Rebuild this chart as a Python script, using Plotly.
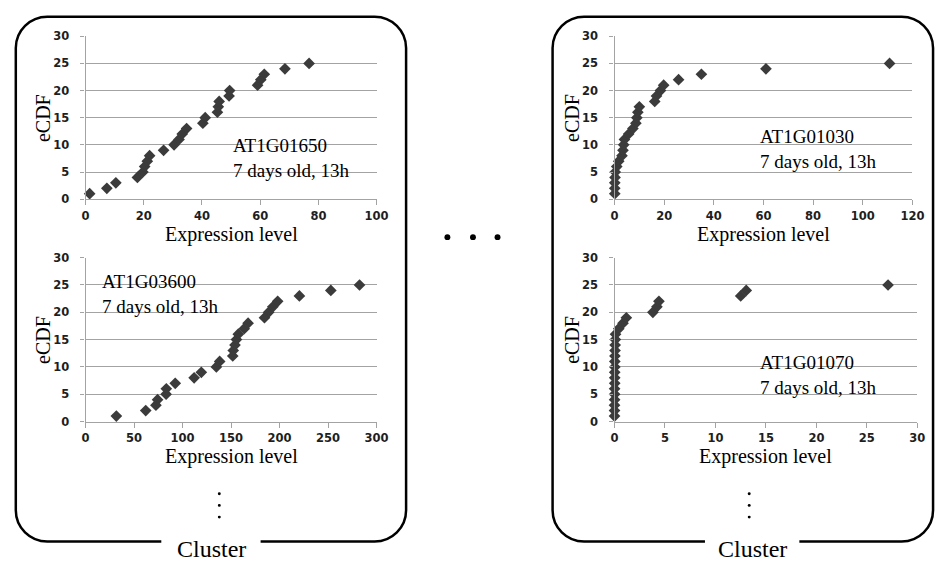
import plotly.graph_objects as go

W, H = 948, 568

# ---------------- data ----------------
ecdf = list(range(1, 26))
condition = "7 days old, 13h"
genes = ["AT1G01650", "AT1G03600", "AT1G01030", "AT1G01070"]

expr_at1g01650 = [1.4, 7.3, 10.4, 17.8, 19.7, 20.3, 21.2, 22.0, 26.8, 30.4,
                  32.1, 33.2, 34.7, 40.3, 41.1, 45.3, 45.6, 45.9, 49.3, 49.5,
                  59.1, 60.2, 61.4, 68.5, 76.8]
expr_at1g03600 = [31.7, 62.0, 72.5, 74.2, 83.0, 83.2, 92.4, 111.9, 119.3, 134.8,
                  138.2, 151.7, 152.2, 154.0, 155.5, 157.4, 163.5, 167.5, 184.4, 188.7,
                  193.0, 198.0, 220.4, 252.8, 282.4]
expr_at1g01030 = [0.1, 0.1, 0.1, 0.2, 0.3, 0.9, 1.7, 3.0, 3.4, 3.7,
                  4.0, 5.7, 7.4, 8.6, 9.0, 9.4, 10.0, 16.2, 16.9, 18.5,
                  19.8, 25.8, 35.0, 61.0, 110.8]
expr_at1g01070 = [0.0, 0.0, 0.0, 0.01, 0.01, 0.01, 0.02, 0.02, 0.02, 0.03,
                  0.03, 0.04, 0.05, 0.06, 0.08, 0.1, 0.42, 0.84, 1.17, 3.8,
                  4.2, 4.4, 12.5, 13.05, 27.1]

series = [expr_at1g01650, expr_at1g03600, expr_at1g01030, expr_at1g01070]
x_ranges = [[0, 100], [0, 300], [0, 120], [0, 30]]
x_dticks = [20, 50, 20, 5]
y_range = [0, 30]
y_dtick = 5

# ---------------- layout helpers (pixel -> paper) ----------------
def px(x):
    return x / W

def py(y):
    return 1 - y / H

# plot areas in pixels: (left, right, top, bottom)
areas = [(83, 379, 30, 197), (83, 379, 257, 425), (621, 924, 30, 197), (621, 929, 257, 425)]

fig = go.Figure()

GRID = "#a3a3a3"
SANS = "'DejaVu Sans', 'Liberation Sans', Arial, sans-serif"
SERIF = "'Liberation Serif', 'Times New Roman', Times, serif"
tick_font = dict(family=SANS, size=11.5, color="#1e1e1e", weight="bold")

layout = dict(width=W, height=H, margin=dict(l=0, r=0, t=0, b=0),
              paper_bgcolor="white", plot_bgcolor="white", showlegend=False)

for i, (vals, area) in enumerate(zip(series, areas)):
    n = "" if i == 0 else str(i + 1)
    fig.add_trace(go.Scatter(
        x=vals, y=ecdf, mode="markers", xaxis="x" + n, yaxis="y" + n,
        marker=dict(symbol="diamond", size=9, color="#3b3b3b"),
        cliponaxis=False, hoverinfo="skip"))
    l, r, t, b = area
    layout["xaxis" + n] = dict(
        domain=[px(l), px(r)], anchor="y" + n, range=x_ranges[i], dtick=x_dticks[i],
        showgrid=False, zeroline=False, showline=True, linecolor=GRID, linewidth=1.3,
        ticks="outside", ticklen=5, tickcolor=GRID, tickwidth=1.3,
        tickfont=tick_font, ticklabelstandoff=1, fixedrange=True)
    layout["yaxis" + n] = dict(
        domain=[py(b), py(t)], anchor="x" + n, range=y_range, dtick=y_dtick,
        showgrid=True, gridcolor=GRID, gridwidth=1.3, zeroline=False,
        showline=True, linecolor=GRID, linewidth=1.3,
        ticks="outside", ticklen=4, tickcolor=GRID, tickwidth=1.3,
        tickfont=tick_font, ticklabelstandoff=9, fixedrange=True)

fig.update_layout(**layout)

shapes = []
# white boxes behind the gene labels (hide gridlines)
white_boxes = [(220, 368, 125, 185), (85, 232, 268, 326), (757, 907, 120, 185), (757, 907, 350, 410)]
for (l, r, t, b) in white_boxes:
    shapes.append(dict(type="rect", xref="paper", yref="paper",
                       x0=px(l), x1=px(r), y0=py(b), y1=py(t),
                       fillcolor="white", line=dict(width=0), layer="between"))

# rounded cluster frames with a gap for the "Cluster" label
def frame_path(l, r, t, b, gap_l, gap_r, rad):
    k = 0.5523 * rad
    def P(x, y):
        return f"{px(x):.5f},{py(y):.5f}"
    d = f"M{P(gap_l, b)} L{P(l + rad, b)} "
    d += f"C{P(l + rad - k, b)} {P(l, b - rad + k)} {P(l, b - rad)} "
    d += f"L{P(l, t + rad)} "
    d += f"C{P(l, t + rad - k)} {P(l + rad - k, t)} {P(l + rad, t)} "
    d += f"L{P(r - rad, t)} "
    d += f"C{P(r - rad + k, t)} {P(r, t + rad - k)} {P(r, t + rad)} "
    d += f"L{P(r, b - rad)} "
    d += f"C{P(r, b - rad + k)} {P(r - rad + k, b)} {P(r - rad, b)} "
    d += f"L{P(gap_r, b)}"
    return d

for (l, r, gl, gr) in [(12, 409, 160, 261), (558, 945, 713, 809)]:
    shapes.append(dict(type="path", xref="paper", yref="paper",
                       path=frame_path(l, r, 10, 548, gl, gr, 32),
                       line=dict(color="black", width=2.5), layer="above"))

# dots
for cx in (451, 477, 502):
    rr = 3
    shapes.append(dict(type="circle", xref="paper", yref="paper",
                       x0=px(cx - rr), x1=px(cx + rr), y0=py(236 + rr), y1=py(236 - rr),
                       fillcolor="black", line=dict(width=0)))
for cx in (219, 758):
    for cy in (499, 511, 523):
        rr = 1.5
        shapes.append(dict(type="circle", xref="paper", yref="paper",
                           x0=px(cx - rr), x1=px(cx + rr), y0=py(cy + rr), y1=py(cy - rr),
                           fillcolor="black", line=dict(width=0)))

fig.update_layout(shapes=shapes)

ann = []
def text(x, y, s, size, **kw):
    d = dict(xref="paper", yref="paper", x=px(x), y=py(y), text=s, showarrow=False,
             font=dict(family=SERIF, size=size, color="black"))
    d.update(kw)
    ann.append(d)

# axis titles
for (l, r, t, b) in areas:
    text((l + r) / 2, b + 36, "Expression level", 20, xanchor="center", yanchor="middle")
    text(l - 44, (t + b) / 2, "eCDF", 20, textangle=-90, xanchor="center", yanchor="middle")

# gene labels
label_pos = [(231, 155), (98, 294.5), (767, 146), (767, 377.5)]
for g, (x, y) in zip(genes, label_pos):
    text(x, y, f"{g}<br>{condition}", 19, xanchor="left", yanchor="middle", align="left")

text(211, 556, "Cluster", 24, xanchor="center", yanchor="middle")
text(761, 556, "Cluster", 24, xanchor="center", yanchor="middle")

fig.update_layout(annotations=ann)

fig.write_html("out.html", config={"displayModeBar": False})
with open("out.html", "r", encoding="utf-8") as f:
    html = f.read()
html = html.replace("<body>", '<body style="margin:0;padding:0;overflow:hidden">', 1)
with open("out.html", "w", encoding="utf-8") as f:
    f.write(html)
